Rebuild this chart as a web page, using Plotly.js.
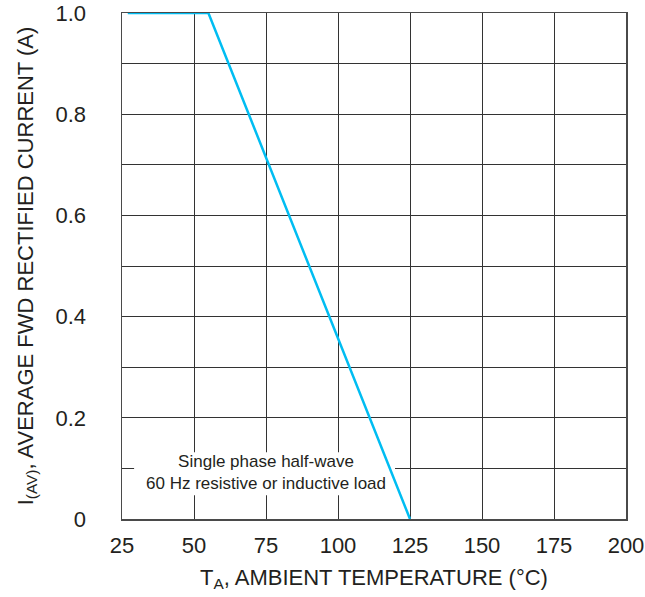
<!DOCTYPE html>
<html>
<head>
<meta charset="utf-8">
<script src="https://cdn.plot.ly/plotly-3.0.1.min.js"></script>
<style>html,body{margin:0;padding:0;background:#fff;}#chart{width:645px;height:597px;}</style>
</head>
<body>
<div id="chart"></div>
<script>
// Derating curve data
var temperature = [27, 55, 125];
var current = [1.0, 1.0, 0.0];

var xTickVals = [25, 50, 75, 100, 125, 150, 175, 200];
var xTickText = ["25", "50", "75", "100", "125", "150", "175", "200"];
var yTickVals = [0, 0.2, 0.4, 0.6, 0.8, 1.0];
var yTickText = ["0", "0.2", "0.4", "0.6", "0.8", "1.0"];

var noteLines = ["Single phase half-wave", "60 Hz resistive or inductive load"];

var font = "Liberation Sans, Arial, Helvetica, sans-serif";

var trace = {
  x: temperature,
  y: current,
  mode: "lines",
  type: "scatter",
  line: {color: "#00BDF2", width: 2.5},
  hoverinfo: "skip"
};

var layout = {
  width: 645,
  height: 597,
  margin: {l: 122, r: 19, t: 13, b: 78},
  paper_bgcolor: "#ffffff",
  plot_bgcolor: "#ffffff",
  showlegend: false,
  font: {family: font, color: "#231f20", size: 22},
  xaxis: {
    range: [25, 200],
    tickmode: "array",
    tickvals: xTickVals,
    ticktext: xTickText,
    showgrid: true,
    gridcolor: "#333333",
    gridwidth: 1,
    zeroline: false,
    showline: true,
    linecolor: "#4a4a4a",
    linewidth: 1.5,
    mirror: true,
    ticks: "",
    ticklabelstandoff: 6,
    tickfont: {size: 22, family: font, color: "#231f20"},
    title: {text: "T<sub>A</sub>, AMBIENT TEMPERATURE (°C)", font: {size: 22, family: font, color: "#231f20"}, standoff: 12}
  },
  yaxis: {
    range: [0, 1],
    tickmode: "array",
    tickvals: yTickVals,
    ticktext: yTickText,
    showgrid: true,
    gridcolor: "#333333",
    gridwidth: 1,
    minor: {dtick: 0.1, tick0: 0, showgrid: true, gridcolor: "#333333", gridwidth: 1, ticks: ""},
    zeroline: false,
    showline: true,
    linecolor: "#4a4a4a",
    linewidth: 1.5,
    mirror: true,
    ticks: "",
    ticklabelstandoff: 30,
    tickfont: {size: 22, family: font, color: "#231f20"},
    title: {text: "I<sub>(AV)</sub>, AVERAGE FWD RECTIFIED CURRENT (A)", font: {size: 22, family: font, color: "#231f20"}, standoff: 16}
  },
  shapes: [{
    type: "rect",
    xref: "x", yref: "y",
    x0: 29.2, x1: 119.8, y0: 0.047, y1: 0.132,
    fillcolor: "#ffffff",
    line: {width: 0},
    layer: "between"
  }],
  annotations: [{
    x: 75, y: 0.091,
    xref: "x", yref: "y",
    text: noteLines.join("<br>"),
    showarrow: false,
    align: "center",
    font: {size: 17, family: font, color: "#231f20"}
  }]
};

Plotly.newPlot("chart", [trace], layout, {staticPlot: true, displayModeBar: false});
</script>
</body>
</html>
